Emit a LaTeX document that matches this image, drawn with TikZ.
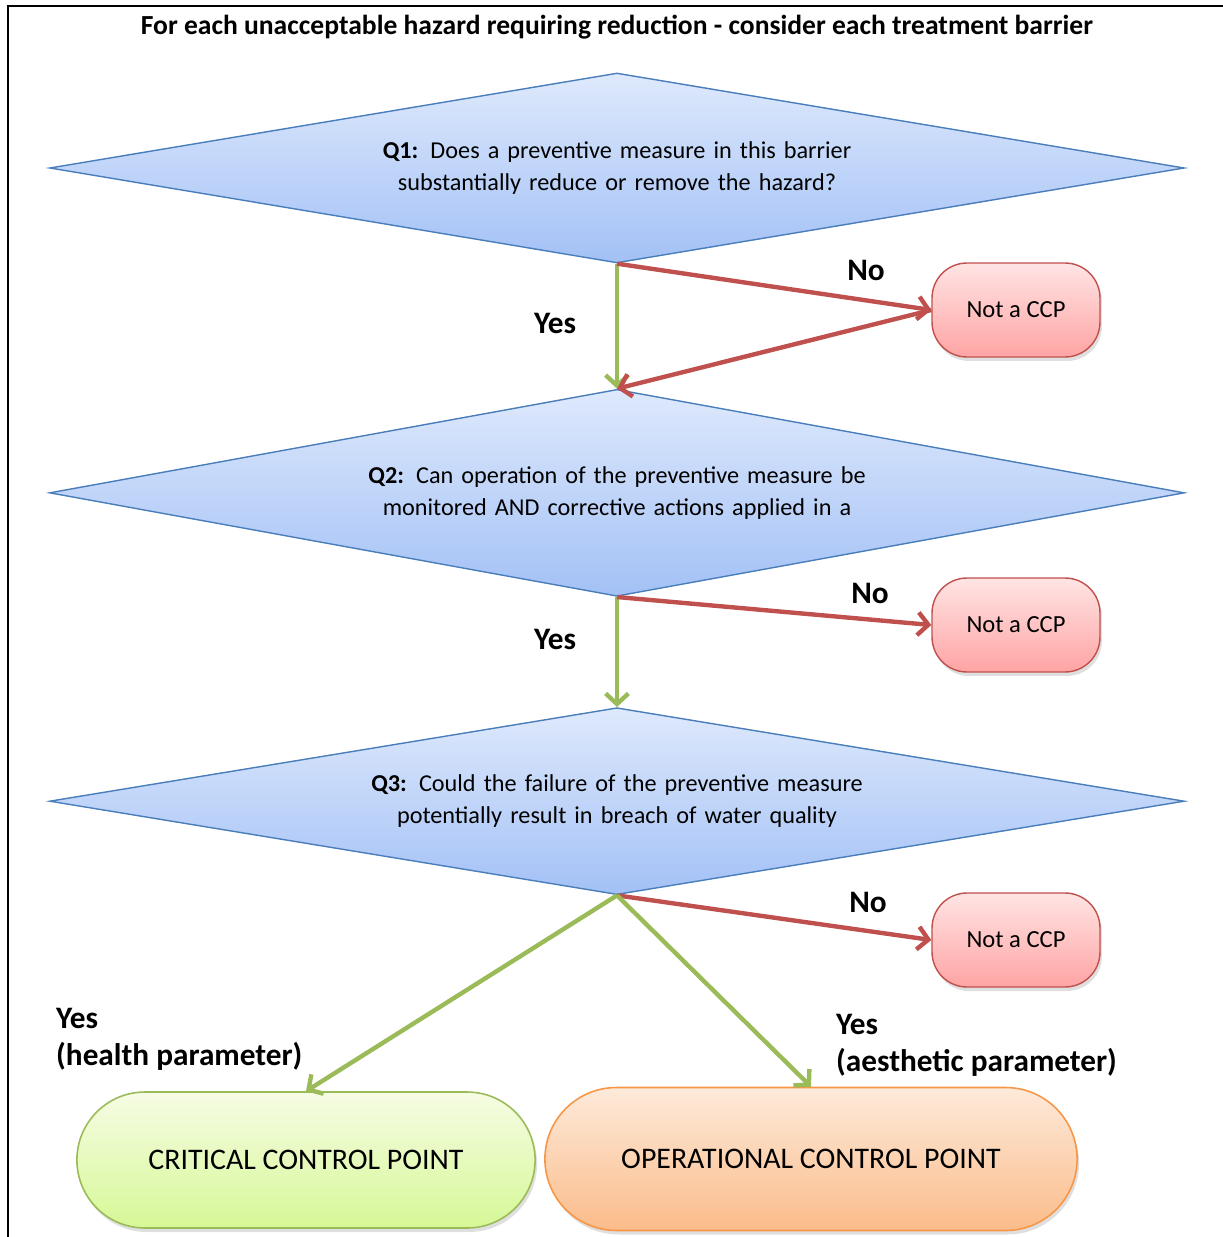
\documentclass[tikz,border=0pt]{standalone}
\usepackage{fontspec}
\setmainfont{Carlito}
\usetikzlibrary{shapes.geometric, shapes.misc, arrows.meta, positioning, shadows}
\definecolor{qblue}{RGB}{74, 126, 187}
\definecolor{qtop}{RGB}{222, 233, 252}
\definecolor{qbot}{RGB}{163, 193, 246}
\definecolor{nored}{RGB}{192, 80, 77}
\definecolor{nctop}{RGB}{255, 228, 228}
\definecolor{ncbot}{RGB}{255, 164, 164}
\definecolor{yesgreen}{RGB}{155, 187, 89}
\definecolor{ccptop}{RGB}{246, 252, 228}
\definecolor{ccpbot}{RGB}{214, 248, 150}
\definecolor{ocporange}{RGB}{247, 150, 70}
\definecolor{ocptop}{RGB}{253, 234, 218}
\definecolor{ocpbot}{RGB}{251, 188, 138}

\begin{document}
\begin{tikzpicture}[
    x=0.02cm, y=-0.02cm,
    question/.style={diamond, aspect=6, draw=qblue, line width=0.8pt,
        top color=qtop, bottom color=qbot, minimum width=22.7cm,
        inner sep=0pt, text width=12cm, align=center,
        font=\fontsize{13.8}{18}\selectfont},
    notccp/.style={rectangle, rounded corners=0.7cm, draw=nored, line width=0.8pt,
        top color=nctop, bottom color=ncbot, minimum width=3.36cm, minimum height=1.88cm,
        font=\fontsize{14}{16}\selectfont,
        drop shadow={opacity=0.25, shadow xshift=0.04cm, shadow yshift=-0.08cm}},
    endpoint/.style={rounded rectangle, line width=0.9pt,
        font=\fontsize{17}{20}\selectfont,
        drop shadow={opacity=0.25, shadow xshift=0.04cm, shadow yshift=-0.08cm}},
    answer/.style={font=\fontsize{17.8}{21}\selectfont\bfseries, align=left},
    yesarrow/.style={line width=2.5pt, yesgreen, -{Straight Barb[length=6pt,width=13pt]}},
    noarrow/.style={line width=2.5pt, nored, -{Straight Barb[length=6pt,width=13pt]}}
]
    \useasboundingbox (0,0) rectangle (1223,1237);
    \draw[line width=1.7pt] (8,1237) |- (1223,6);

    % Title
    \node[font=\fontsize{15.7}{18}\selectfont\bfseries] (title) at (617,27)
        {For each unacceptable hazard requiring reduction - consider each treatment barrier};

    % Questions
    \node[question, minimum height=3.8cm] (q1) at (617,168)
        {\textbf{Q1:} Does a preventive measure in this barrier\\substantially reduce or remove the hazard?};
    \node[question, minimum height=4.14cm, below=2.5cm of q1] (q2)
        {\textbf{Q2:} Can operation of the preventive measure be\\monitored AND corrective actions applied in a};
    \node[question, minimum height=3.74cm, below=2.2cm of q2] (q3)
        {\textbf{Q3:} Could the failure of the preventive measure\\potentially result in breach of water quality};

    % Not a CCP boxes
    \node[notccp] (ncp1) at (1016,310) {Not a CCP};
    \node[notccp] (ncp2) at (1016,625) {Not a CCP};
    \node[notccp] (ncp3) at (1016,940) {Not a CCP};

    % Outcomes
    \node[endpoint, draw=yesgreen, top color=ccptop, bottom color=ccpbot,
        minimum width=9.4cm, minimum height=2.72cm] (ccp) at (306,1160) {CRITICAL CONTROL POINT};
    \node[endpoint, draw=ocporange, top color=ocptop, bottom color=ocpbot,
        minimum width=10.88cm, minimum height=2.86cm] (ocp) at (811,1159) {OPERATIONAL CONTROL POINT};

    % Arrows
    \draw[yesarrow] (q1.south) -- (q2.north);
    \draw[noarrow] (q1.south) -- (ncp1.west);
    \draw[noarrow] (ncp1.west) -- (q2.north);
    \draw[yesarrow] (q2.south) -- (q3.north);
    \draw[noarrow] (q2.south) -- (ncp2.west);
    \draw[noarrow] (q3.south) -- (ncp3.west);
    \draw[yesarrow] (q3.south) -- (ccp.north);
    \draw[yesarrow] (q3.south) -- (ocp.north);

    % Labels
    \node[answer] (yes1) at (555,323) {Yes};
    \node[answer] (no1) at (866,270) {No};
    \node[answer] (yes2) at (555,639) {Yes};
    \node[answer] (no2) at (870,593) {No};
    \node[answer] (no3) at (868,902) {No};
    \node[answer, anchor=west] (yes3) at (50,1039) {Yes\\(health parameter)};
    \node[answer, anchor=west] (yes4) at (830,1045) {Yes\\(aesthetic parameter)};
\end{tikzpicture}
\end{document}
